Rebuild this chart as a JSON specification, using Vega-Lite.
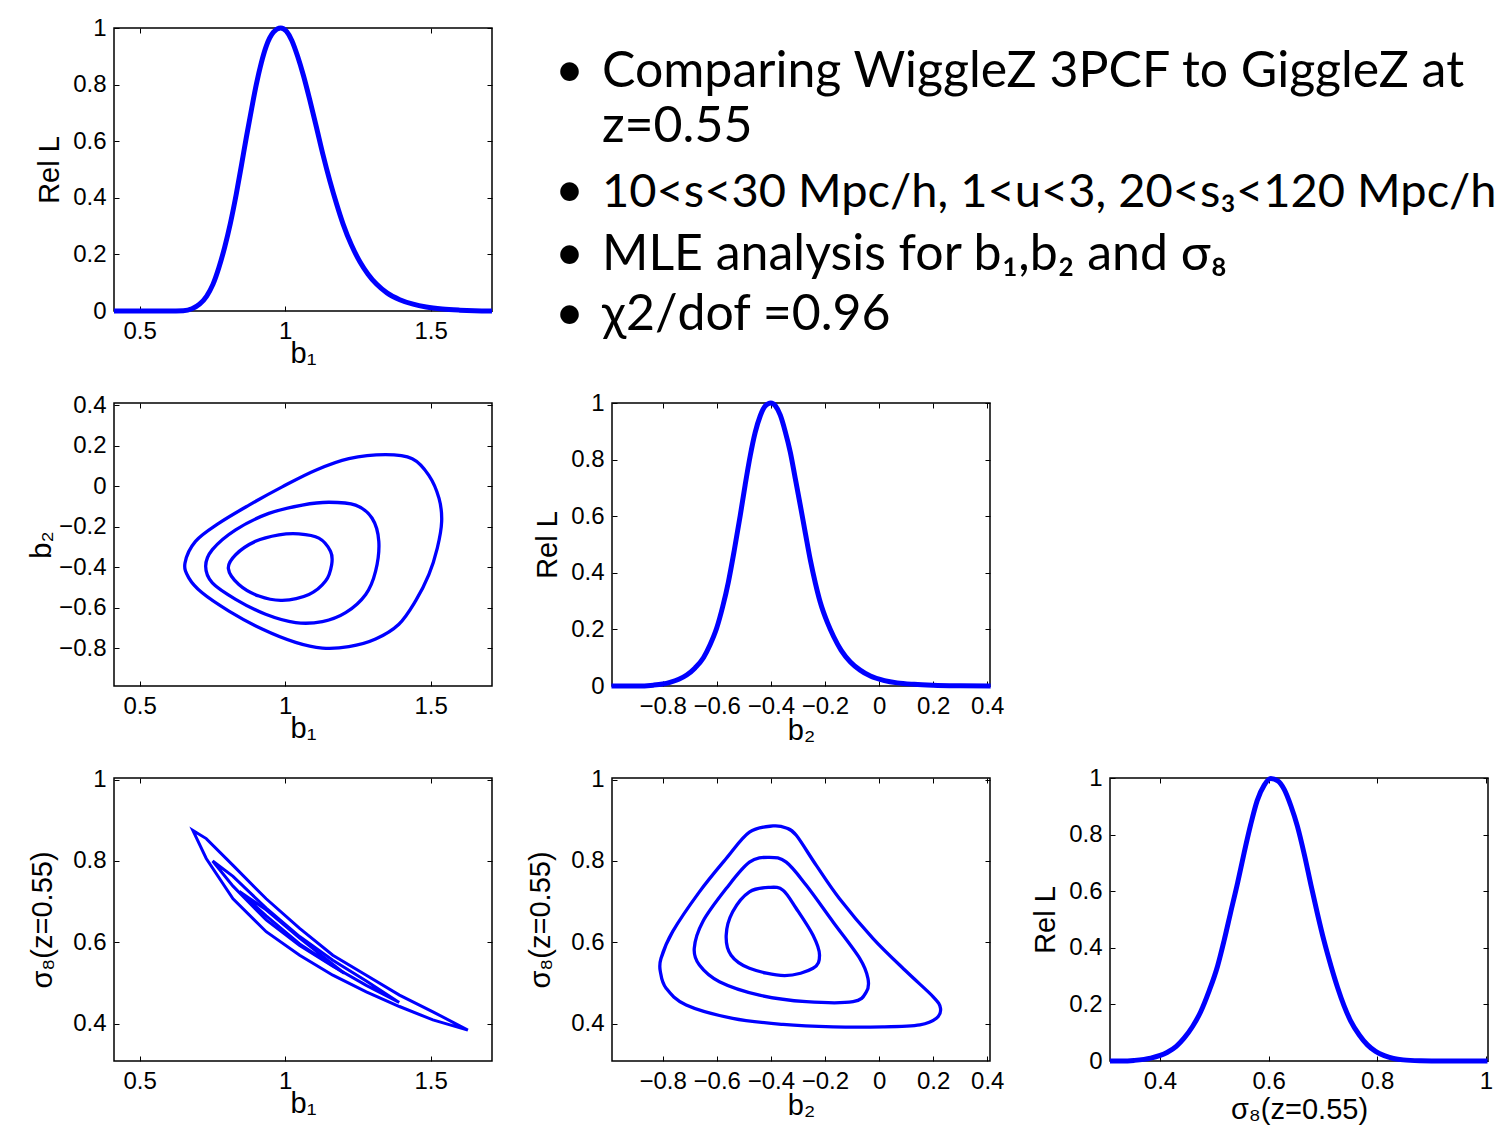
{
  "$schema": "https://vega.github.io/schema/vega-lite/v6.json",
  "background": "white",
  "padding": {"left": 26, "top": 15, "right": 0, "bottom": 0},
  "config": {
    "view": {"stroke": "black", "strokeWidth": 1.5},
    "axis": {
      "grid": false,
      "tickSize": -5,
      "tickColor": "black",
      "tickWidth": 1,
      "domain": false,
      "labelFont": "Liberation Sans",
      "labelFontSize": 24,
      "labelColor": "black",
      "labelPadding": 13,
      "labelOverlap": false,
      "labelFlush": false,
      "labelBound": false,
      "titleFont": "Liberation Sans",
      "titleFontSize": 29,
      "titleFontWeight": "normal",
      "titleColor": "black",
      "titlePadding": -4
    }
  },
  "datasets": {
    "p1": [
      {"b1": 0.412, "L": 0}, {"b1": 0.6, "L": 0}, {"b1": 0.65, "L": 0.001}, {"b1": 0.68, "L": 0.008},
      {"b1": 0.706, "L": 0.024}, {"b1": 0.73, "L": 0.052}, {"b1": 0.752, "L": 0.094}, {"b1": 0.772, "L": 0.152},
      {"b1": 0.792, "L": 0.224}, {"b1": 0.812, "L": 0.31}, {"b1": 0.832, "L": 0.412}, {"b1": 0.85, "L": 0.515},
      {"b1": 0.867, "L": 0.615}, {"b1": 0.885, "L": 0.715}, {"b1": 0.901, "L": 0.8}, {"b1": 0.918, "L": 0.876},
      {"b1": 0.935, "L": 0.935}, {"b1": 0.96, "L": 0.985}, {"b1": 0.985, "L": 1.0}, {"b1": 1.005, "L": 0.988},
      {"b1": 1.023, "L": 0.956}, {"b1": 1.043, "L": 0.9}, {"b1": 1.063, "L": 0.832}, {"b1": 1.085, "L": 0.745},
      {"b1": 1.108, "L": 0.648}, {"b1": 1.13, "L": 0.553}, {"b1": 1.154, "L": 0.459}, {"b1": 1.177, "L": 0.378},
      {"b1": 1.199, "L": 0.308}, {"b1": 1.228, "L": 0.233}, {"b1": 1.257, "L": 0.174}, {"b1": 1.285, "L": 0.13},
      {"b1": 1.314, "L": 0.095}, {"b1": 1.35, "L": 0.064}, {"b1": 1.394, "L": 0.04}, {"b1": 1.44, "L": 0.024},
      {"b1": 1.485, "L": 0.014}, {"b1": 1.54, "L": 0.007}, {"b1": 1.6, "L": 0.003}, {"b1": 1.65, "L": 0.001},
      {"b1": 1.711, "L": 0}
    ],
    "p3": [
      {"b2": -0.989, "L": 0}, {"b2": -0.9, "L": 0}, {"b2": -0.834, "L": 0.003}, {"b2": -0.8, "L": 0.007},
      {"b2": -0.773, "L": 0.013}, {"b2": -0.74, "L": 0.024}, {"b2": -0.711, "L": 0.039}, {"b2": -0.68, "L": 0.064},
      {"b2": -0.649, "L": 0.1}, {"b2": -0.625, "L": 0.145}, {"b2": -0.6, "L": 0.205}, {"b2": -0.578, "L": 0.28},
      {"b2": -0.557, "L": 0.367}, {"b2": -0.535, "L": 0.48}, {"b2": -0.513, "L": 0.603}, {"b2": -0.495, "L": 0.71},
      {"b2": -0.476, "L": 0.814}, {"b2": -0.458, "L": 0.895}, {"b2": -0.439, "L": 0.955}, {"b2": -0.42, "L": 0.99},
      {"b2": -0.4, "L": 1.0}, {"b2": -0.383, "L": 0.99}, {"b2": -0.365, "L": 0.957}, {"b2": -0.347, "L": 0.9},
      {"b2": -0.328, "L": 0.826}, {"b2": -0.31, "L": 0.735}, {"b2": -0.291, "L": 0.638}, {"b2": -0.272, "L": 0.538},
      {"b2": -0.254, "L": 0.445}, {"b2": -0.235, "L": 0.362}, {"b2": -0.217, "L": 0.295}, {"b2": -0.19, "L": 0.222},
      {"b2": -0.168, "L": 0.175}, {"b2": -0.14, "L": 0.126}, {"b2": -0.106, "L": 0.085}, {"b2": -0.07, "L": 0.056},
      {"b2": -0.032, "L": 0.035}, {"b2": 0.02, "L": 0.019}, {"b2": 0.067, "L": 0.011}, {"b2": 0.13, "L": 0.006},
      {"b2": 0.2, "L": 0.003}, {"b2": 0.3, "L": 0.001}, {"b2": 0.4125, "L": 0}
    ],
    "p6": [
      {"s8": 0.308, "L": 0}, {"s8": 0.33, "L": 0}, {"s8": 0.352, "L": 0.002}, {"s8": 0.383, "L": 0.01},
      {"s8": 0.413, "L": 0.03}, {"s8": 0.43, "L": 0.052}, {"s8": 0.444, "L": 0.08}, {"s8": 0.46, "L": 0.122},
      {"s8": 0.475, "L": 0.174}, {"s8": 0.49, "L": 0.245}, {"s8": 0.506, "L": 0.335}, {"s8": 0.518, "L": 0.425},
      {"s8": 0.53, "L": 0.524}, {"s8": 0.543, "L": 0.63}, {"s8": 0.555, "L": 0.736}, {"s8": 0.567, "L": 0.835},
      {"s8": 0.579, "L": 0.92}, {"s8": 0.592, "L": 0.975}, {"s8": 0.604, "L": 0.998}, {"s8": 0.617, "L": 0.99},
      {"s8": 0.629, "L": 0.959}, {"s8": 0.641, "L": 0.902}, {"s8": 0.653, "L": 0.83}, {"s8": 0.666, "L": 0.728},
      {"s8": 0.678, "L": 0.622}, {"s8": 0.69, "L": 0.52}, {"s8": 0.702, "L": 0.425}, {"s8": 0.715, "L": 0.335},
      {"s8": 0.727, "L": 0.26}, {"s8": 0.739, "L": 0.195}, {"s8": 0.751, "L": 0.142}, {"s8": 0.767, "L": 0.092},
      {"s8": 0.782, "L": 0.057}, {"s8": 0.797, "L": 0.034}, {"s8": 0.813, "L": 0.019}, {"s8": 0.83, "L": 0.009},
      {"s8": 0.848, "L": 0.004}, {"s8": 0.88, "L": 0.001}, {"s8": 0.92, "L": 0}, {"s8": 1.003, "L": 0}
    ],
    "c12": [
      {"c": "outer", "i": 0, "b1": 0.656, "b2": -0.38}, {"c": "outer", "i": 1, "b1": 0.692, "b2": -0.273},
      {"c": "outer", "i": 2, "b1": 0.773, "b2": -0.183}, {"c": "outer", "i": 3, "b1": 0.876, "b2": -0.094},
      {"c": "outer", "i": 4, "b1": 0.99, "b2": -0.004}, {"c": "outer", "i": 5, "b1": 1.105, "b2": 0.078},
      {"c": "outer", "i": 6, "b1": 1.219, "b2": 0.135}, {"c": "outer", "i": 7, "b1": 1.345, "b2": 0.155},
      {"c": "outer", "i": 8, "b1": 1.437, "b2": 0.135}, {"c": "outer", "i": 9, "b1": 1.494, "b2": 0.053},
      {"c": "outer", "i": 10, "b1": 1.529, "b2": -0.061}, {"c": "outer", "i": 11, "b1": 1.538, "b2": -0.175},
      {"c": "outer", "i": 12, "b1": 1.523, "b2": -0.306}, {"c": "outer", "i": 13, "b1": 1.494, "b2": -0.437},
      {"c": "outer", "i": 14, "b1": 1.448, "b2": -0.568}, {"c": "outer", "i": 15, "b1": 1.391, "b2": -0.682},
      {"c": "outer", "i": 16, "b1": 1.311, "b2": -0.755}, {"c": "outer", "i": 17, "b1": 1.219, "b2": -0.793},
      {"c": "outer", "i": 18, "b1": 1.128, "b2": -0.8}, {"c": "outer", "i": 19, "b1": 1.036, "b2": -0.772},
      {"c": "outer", "i": 20, "b1": 0.921, "b2": -0.706}, {"c": "outer", "i": 21, "b1": 0.807, "b2": -0.617},
      {"c": "outer", "i": 22, "b1": 0.715, "b2": -0.527}, {"c": "outer", "i": 23, "b1": 0.669, "b2": -0.453},
      {"c": "mid", "i": 0, "b1": 0.727, "b2": -0.396}, {"c": "mid", "i": 1, "b1": 0.75, "b2": -0.314},
      {"c": "mid", "i": 2, "b1": 0.83, "b2": -0.216}, {"c": "mid", "i": 3, "b1": 0.944, "b2": -0.135},
      {"c": "mid", "i": 4, "b1": 1.059, "b2": -0.094}, {"c": "mid", "i": 5, "b1": 1.15, "b2": -0.08},
      {"c": "mid", "i": 6, "b1": 1.242, "b2": -0.094}, {"c": "mid", "i": 7, "b1": 1.299, "b2": -0.159},
      {"c": "mid", "i": 8, "b1": 1.322, "b2": -0.273}, {"c": "mid", "i": 9, "b1": 1.311, "b2": -0.42},
      {"c": "mid", "i": 10, "b1": 1.277, "b2": -0.535}, {"c": "mid", "i": 11, "b1": 1.208, "b2": -0.625},
      {"c": "mid", "i": 12, "b1": 1.128, "b2": -0.669}, {"c": "mid", "i": 13, "b1": 1.036, "b2": -0.674},
      {"c": "mid", "i": 14, "b1": 0.933, "b2": -0.633}, {"c": "mid", "i": 15, "b1": 0.83, "b2": -0.559},
      {"c": "mid", "i": 16, "b1": 0.75, "b2": -0.478},
      {"c": "inner", "i": 0, "b1": 0.805, "b2": -0.407}, {"c": "inner", "i": 1, "b1": 0.83, "b2": -0.339},
      {"c": "inner", "i": 2, "b1": 0.898, "b2": -0.273}, {"c": "inner", "i": 3, "b1": 0.979, "b2": -0.241},
      {"c": "inner", "i": 4, "b1": 1.047, "b2": -0.236}, {"c": "inner", "i": 5, "b1": 1.116, "b2": -0.257},
      {"c": "inner", "i": 6, "b1": 1.156, "b2": -0.322}, {"c": "inner", "i": 7, "b1": 1.16, "b2": -0.388},
      {"c": "inner", "i": 8, "b1": 1.139, "b2": -0.469}, {"c": "inner", "i": 9, "b1": 1.082, "b2": -0.535},
      {"c": "inner", "i": 10, "b1": 0.99, "b2": -0.564}, {"c": "inner", "i": 11, "b1": 0.91, "b2": -0.543},
      {"c": "inner", "i": 12, "b1": 0.841, "b2": -0.486}
    ],
    "c13": [
      {"c": "outer", "i": 0, "b1": 0.683, "s8": 0.875}, {"c": "outer", "i": 1, "b1": 0.729, "s8": 0.806},
      {"c": "outer", "i": 2, "b1": 0.821, "s8": 0.707}, {"c": "outer", "i": 3, "b1": 0.935, "s8": 0.626},
      {"c": "outer", "i": 4, "b1": 1.05, "s8": 0.568}, {"c": "outer", "i": 5, "b1": 1.164, "s8": 0.519},
      {"c": "outer", "i": 6, "b1": 1.279, "s8": 0.478}, {"c": "outer", "i": 7, "b1": 1.393, "s8": 0.442},
      {"c": "outer", "i": 8, "b1": 1.508, "s8": 0.409}, {"c": "outer", "i": 9, "b1": 1.628, "s8": 0.384},
      {"c": "outer", "i": 10, "b1": 1.508, "s8": 0.429}, {"c": "outer", "i": 11, "b1": 1.393, "s8": 0.47},
      {"c": "outer", "i": 12, "b1": 1.279, "s8": 0.519}, {"c": "outer", "i": 13, "b1": 1.164, "s8": 0.568},
      {"c": "outer", "i": 14, "b1": 1.05, "s8": 0.634}, {"c": "outer", "i": 15, "b1": 0.935, "s8": 0.707},
      {"c": "outer", "i": 16, "b1": 0.821, "s8": 0.789}, {"c": "outer", "i": 17, "b1": 0.729, "s8": 0.855},
      {"c": "mid", "i": 0, "b1": 0.751, "s8": 0.8}, {"c": "mid", "i": 1, "b1": 0.821, "s8": 0.738},
      {"c": "mid", "i": 2, "b1": 0.935, "s8": 0.655}, {"c": "mid", "i": 3, "b1": 1.05, "s8": 0.592},
      {"c": "mid", "i": 4, "b1": 1.164, "s8": 0.541}, {"c": "mid", "i": 5, "b1": 1.279, "s8": 0.494},
      {"c": "mid", "i": 6, "b1": 1.392, "s8": 0.452}, {"c": "mid", "i": 7, "b1": 1.279, "s8": 0.505},
      {"c": "mid", "i": 8, "b1": 1.164, "s8": 0.556}, {"c": "mid", "i": 9, "b1": 1.05, "s8": 0.614},
      {"c": "mid", "i": 10, "b1": 0.935, "s8": 0.684}, {"c": "mid", "i": 11, "b1": 0.821, "s8": 0.762},
      {"c": "inner", "i": 0, "b1": 0.843, "s8": 0.725}, {"c": "inner", "i": 1, "b1": 0.935, "s8": 0.665},
      {"c": "inner", "i": 2, "b1": 1.05, "s8": 0.596}, {"c": "inner", "i": 3, "b1": 1.203, "s8": 0.524},
      {"c": "inner", "i": 4, "b1": 1.05, "s8": 0.61}, {"c": "inner", "i": 5, "b1": 0.935, "s8": 0.68}
    ],
    "c23": [
      {"c": "outer", "i": 0, "b2": -0.392, "s8": 0.886}, {"c": "outer", "i": 1, "b2": -0.479, "s8": 0.871},
      {"c": "outer", "i": 2, "b2": -0.565, "s8": 0.806}, {"c": "outer", "i": 3, "b2": -0.664, "s8": 0.724},
      {"c": "outer", "i": 4, "b2": -0.763, "s8": 0.626}, {"c": "outer", "i": 5, "b2": -0.806, "s8": 0.56},
      {"c": "outer", "i": 6, "b2": -0.808, "s8": 0.527}, {"c": "outer", "i": 7, "b2": -0.787, "s8": 0.487},
      {"c": "outer", "i": 8, "b2": -0.713, "s8": 0.446}, {"c": "outer", "i": 9, "b2": -0.541, "s8": 0.413},
      {"c": "outer", "i": 10, "b2": -0.355, "s8": 0.398}, {"c": "outer", "i": 11, "b2": -0.17, "s8": 0.392},
      {"c": "outer", "i": 12, "b2": 0.015, "s8": 0.392}, {"c": "outer", "i": 13, "b2": 0.151, "s8": 0.397},
      {"c": "outer", "i": 14, "b2": 0.212, "s8": 0.413}, {"c": "outer", "i": 15, "b2": 0.227, "s8": 0.438},
      {"c": "outer", "i": 16, "b2": 0.2, "s8": 0.466}, {"c": "outer", "i": 17, "b2": 0.101, "s8": 0.528},
      {"c": "outer", "i": 18, "b2": -0.022, "s8": 0.609}, {"c": "outer", "i": 19, "b2": -0.146, "s8": 0.707},
      {"c": "outer", "i": 20, "b2": -0.232, "s8": 0.789}, {"c": "outer", "i": 21, "b2": -0.306, "s8": 0.863},
      {"c": "outer", "i": 22, "b2": -0.343, "s8": 0.881},
      {"c": "mid", "i": 0, "b2": -0.405, "s8": 0.809}, {"c": "mid", "i": 1, "b2": -0.479, "s8": 0.797},
      {"c": "mid", "i": 2, "b2": -0.565, "s8": 0.732}, {"c": "mid", "i": 3, "b2": -0.652, "s8": 0.65},
      {"c": "mid", "i": 4, "b2": -0.683, "s8": 0.585}, {"c": "mid", "i": 5, "b2": -0.664, "s8": 0.544},
      {"c": "mid", "i": 6, "b2": -0.59, "s8": 0.503}, {"c": "mid", "i": 7, "b2": -0.442, "s8": 0.47},
      {"c": "mid", "i": 8, "b2": -0.269, "s8": 0.454}, {"c": "mid", "i": 9, "b2": -0.096, "s8": 0.454},
      {"c": "mid", "i": 10, "b2": -0.047, "s8": 0.478}, {"c": "mid", "i": 11, "b2": -0.041, "s8": 0.511},
      {"c": "mid", "i": 12, "b2": -0.071, "s8": 0.56}, {"c": "mid", "i": 13, "b2": -0.17, "s8": 0.65},
      {"c": "mid", "i": 14, "b2": -0.269, "s8": 0.74}, {"c": "mid", "i": 15, "b2": -0.343, "s8": 0.797},
      {"c": "inner", "i": 0, "b2": -0.405, "s8": 0.735}, {"c": "inner", "i": 1, "b2": -0.479, "s8": 0.724},
      {"c": "inner", "i": 2, "b2": -0.541, "s8": 0.675}, {"c": "inner", "i": 3, "b2": -0.565, "s8": 0.617},
      {"c": "inner", "i": 4, "b2": -0.547, "s8": 0.568}, {"c": "inner", "i": 5, "b2": -0.479, "s8": 0.536},
      {"c": "inner", "i": 6, "b2": -0.349, "s8": 0.518}, {"c": "inner", "i": 7, "b2": -0.244, "s8": 0.536},
      {"c": "inner", "i": 8, "b2": -0.22, "s8": 0.568}, {"c": "inner", "i": 9, "b2": -0.244, "s8": 0.617},
      {"c": "inner", "i": 10, "b2": -0.306, "s8": 0.683}, {"c": "inner", "i": 11, "b2": -0.355, "s8": 0.728}
    ],
    "txt": [
      {"t": "•", "col": 0, "row": 2.07},
      {"t": "Comparing WiggleZ 3PCF to GiggleZ at", "col": 1, "row": 2.07},
      {"t": "z=0.55", "col": 1, "row": 4.02},
      {"t": "•", "col": 0, "row": 6.31},
      {"t": "10<s<30 Mpc/h, 1<u<3, 20<s₃<120 Mpc/h", "col": 1, "row": 6.31},
      {"t": "•", "col": 0, "row": 8.55},
      {"t": "MLE analysis for b₁,b₂ and σ₈", "col": 1, "row": 8.55},
      {"t": "•", "col": 0, "row": 10.67},
      {"t": "χ2/dof =0.96", "col": 1, "row": 10.67}
    ],
    "none": []
  },
  "columns": 3,
  "bounds": "flush",
  "spacing": {"row": 92, "column": 120},
  "concat": [
    {
      "width": 378, "height": 283,
      "data": {"name": "p1"},
      "layer": [
        {"mark": {"type": "line", "color": "#0000ff", "strokeWidth": 5, "interpolate": "monotone"},
         "encoding": {
           "x": {"field": "b1", "type": "quantitative", "scale": {"domain": [0.412, 1.711], "nice": false, "zero": false},
                 "axis": {"orient": "bottom", "values": [0.5, 1, 1.5], "format": "~g", "title": "b₁"}},
           "y": {"field": "L", "type": "quantitative", "scale": {"domain": [0, 1], "nice": false, "zero": false},
                 "axis": {"orient": "left", "values": [0, 0.2, 0.4, 0.6, 0.8, 1], "format": "~g", "title": "Rel L", "titlePadding": 8}}}},
        {"mark": {"type": "line", "opacity": 0},
         "encoding": {
           "x": {"field": "b1", "type": "quantitative", "scale": {"domain": [0.412, 1.711], "nice": false, "zero": false},
                 "axis": {"orient": "top", "values": [0.5, 1, 1.5], "labels": false, "title": null}},
           "y": {"field": "L", "type": "quantitative", "scale": {"domain": [0, 1], "nice": false, "zero": false},
                 "axis": {"orient": "right", "values": [0, 0.2, 0.4, 0.6, 0.8, 1], "labels": false, "title": null}}}}
      ],
      "resolve": {"axis": {"x": "independent", "y": "independent"}}
    },
    {
      "width": 378, "height": 283,
      "view": {"stroke": null},
      "data": {"name": "txt"},
      "encoding": {
        "x": {"field": "col", "type": "quantitative", "scale": {"domain": [1.2128, 9.2553], "nice": false, "zero": false}, "axis": null},
        "y": {"field": "row", "type": "quantitative", "scale": {"domain": [10, 0], "nice": false, "zero": false}, "axis": null},
        "text": {"field": "t"}
      },
      "layer": [
        {"transform": [{"filter": {"not": {"field": "t", "equal": "10<s<30 Mpc/h, 1<u<3, 20<s₃<120 Mpc/h"}}}],
         "mark": {"type": "text", "align": "left", "baseline": "alphabetic", "font": "Lato", "fontSize": 50, "color": "black"}},
        {"transform": [{"filter": {"field": "t", "equal": "10<s<30 Mpc/h, 1<u<3, 20<s₃<120 Mpc/h"}}],
         "mark": {"type": "text", "align": "left", "baseline": "alphabetic", "font": "Lato", "fontSize": 47, "color": "black"}}
      ]
    },
    {
      "width": 378, "height": 283,
      "view": {"stroke": null},
      "data": {"name": "none"},
      "mark": "point"
    },
    {
      "width": 378, "height": 283,
      "data": {"name": "c12"},
      "layer": [
        {"mark": {"type": "line", "color": "#0000ff", "strokeWidth": 3.3, "interpolate": "cardinal-closed"},
         "encoding": {
           "x": {"field": "b1", "type": "quantitative", "scale": {"domain": [0.412, 1.711], "nice": false, "zero": false},
                 "axis": {"orient": "bottom", "values": [0.5, 1, 1.5], "format": "~g", "title": "b₁"}},
           "y": {"field": "b2", "type": "quantitative", "scale": {"domain": [-0.987, 0.41], "nice": false, "zero": false},
                 "axis": {"orient": "left", "values": [-0.8, -0.6, -0.4, -0.2, 0, 0.2, 0.4], "format": "~g", "title": "b₂", "titlePadding": 2}},
           "detail": {"field": "c", "type": "nominal"},
           "order": {"field": "i", "type": "quantitative"}}},
        {"mark": {"type": "line", "opacity": 0},
         "encoding": {
           "x": {"field": "b1", "type": "quantitative", "scale": {"domain": [0.412, 1.711], "nice": false, "zero": false},
                 "axis": {"orient": "top", "values": [0.5, 1, 1.5], "labels": false, "title": null}},
           "y": {"field": "b2", "type": "quantitative", "scale": {"domain": [-0.987, 0.41], "nice": false, "zero": false},
                 "axis": {"orient": "right", "values": [-0.8, -0.6, -0.4, -0.2, 0, 0.2, 0.4], "labels": false, "title": null}},
           "detail": {"field": "c", "type": "nominal"},
           "order": {"field": "i", "type": "quantitative"}}}
      ],
      "resolve": {"axis": {"x": "independent", "y": "independent"}}
    },
    {
      "width": 378, "height": 283,
      "data": {"name": "p3"},
      "layer": [
        {"mark": {"type": "line", "color": "#0000ff", "strokeWidth": 5, "interpolate": "monotone"},
         "encoding": {
           "x": {"field": "b2", "type": "quantitative", "scale": {"domain": [-0.987, 0.41], "nice": false, "zero": false},
                 "axis": {"orient": "bottom", "values": [-0.8, -0.6, -0.4, -0.2, 0, 0.2, 0.4], "format": "~g", "title": "b₂", "titlePadding": -2}},
           "y": {"field": "L", "type": "quantitative", "scale": {"domain": [0, 1], "nice": false, "zero": false},
                 "axis": {"orient": "left", "values": [0, 0.2, 0.4, 0.6, 0.8, 1], "format": "~g", "title": "Rel L", "titlePadding": 8}}}},
        {"mark": {"type": "line", "opacity": 0},
         "encoding": {
           "x": {"field": "b2", "type": "quantitative", "scale": {"domain": [-0.987, 0.41], "nice": false, "zero": false},
                 "axis": {"orient": "top", "values": [-0.8, -0.6, -0.4, -0.2, 0, 0.2, 0.4], "labels": false, "title": null}},
           "y": {"field": "L", "type": "quantitative", "scale": {"domain": [0, 1], "nice": false, "zero": false},
                 "axis": {"orient": "right", "values": [0, 0.2, 0.4, 0.6, 0.8, 1], "labels": false, "title": null}}}}
      ],
      "resolve": {"axis": {"x": "independent", "y": "independent"}}
    },
    {
      "width": 378, "height": 283,
      "view": {"stroke": null},
      "data": {"name": "none"},
      "mark": "point"
    },
    {
      "width": 378, "height": 283,
      "data": {"name": "c13"},
      "layer": [
        {"mark": {"type": "line", "color": "#0000ff", "strokeWidth": 3, "interpolate": "linear-closed"},
         "encoding": {
           "x": {"field": "b1", "type": "quantitative", "scale": {"domain": [0.412, 1.711], "nice": false, "zero": false},
                 "axis": {"orient": "bottom", "values": [0.5, 1, 1.5], "format": "~g", "title": "b₁"}},
           "y": {"field": "s8", "type": "quantitative", "scale": {"domain": [0.308, 1.004], "nice": false, "zero": false},
                 "axis": {"orient": "left", "values": [0.4, 0.6, 0.8, 1], "format": "~g", "title": "σ₈(z=0.55)", "titlePadding": 15}},
           "detail": {"field": "c", "type": "nominal"},
           "order": {"field": "i", "type": "quantitative"}}},
        {"mark": {"type": "line", "opacity": 0},
         "encoding": {
           "x": {"field": "b1", "type": "quantitative", "scale": {"domain": [0.412, 1.711], "nice": false, "zero": false},
                 "axis": {"orient": "top", "values": [0.5, 1, 1.5], "labels": false, "title": null}},
           "y": {"field": "s8", "type": "quantitative", "scale": {"domain": [0.308, 1.004], "nice": false, "zero": false},
                 "axis": {"orient": "right", "values": [0.4, 0.6, 0.8, 1], "labels": false, "title": null}},
           "detail": {"field": "c", "type": "nominal"},
           "order": {"field": "i", "type": "quantitative"}}}
      ],
      "resolve": {"axis": {"x": "independent", "y": "independent"}}
    },
    {
      "width": 378, "height": 283,
      "data": {"name": "c23"},
      "layer": [
        {"mark": {"type": "line", "color": "#0000ff", "strokeWidth": 3.3, "interpolate": "cardinal-closed"},
         "encoding": {
           "x": {"field": "b2", "type": "quantitative", "scale": {"domain": [-0.987, 0.41], "nice": false, "zero": false},
                 "axis": {"orient": "bottom", "values": [-0.8, -0.6, -0.4, -0.2, 0, 0.2, 0.4], "format": "~g", "title": "b₂", "titlePadding": -2}},
           "y": {"field": "s8", "type": "quantitative", "scale": {"domain": [0.308, 1.004], "nice": false, "zero": false},
                 "axis": {"orient": "left", "values": [0.4, 0.6, 0.8, 1], "format": "~g", "title": "σ₈(z=0.55)", "titlePadding": 15}},
           "detail": {"field": "c", "type": "nominal"},
           "order": {"field": "i", "type": "quantitative"}}},
        {"mark": {"type": "line", "opacity": 0},
         "encoding": {
           "x": {"field": "b2", "type": "quantitative", "scale": {"domain": [-0.987, 0.41], "nice": false, "zero": false},
                 "axis": {"orient": "top", "values": [-0.8, -0.6, -0.4, -0.2, 0, 0.2, 0.4], "labels": false, "title": null}},
           "y": {"field": "s8", "type": "quantitative", "scale": {"domain": [0.308, 1.004], "nice": false, "zero": false},
                 "axis": {"orient": "right", "values": [0.4, 0.6, 0.8, 1], "labels": false, "title": null}},
           "detail": {"field": "c", "type": "nominal"},
           "order": {"field": "i", "type": "quantitative"}}}
      ],
      "resolve": {"axis": {"x": "independent", "y": "independent"}}
    },
    {
      "width": 378, "height": 283,
      "data": {"name": "p6"},
      "layer": [
        {"mark": {"type": "line", "color": "#0000ff", "strokeWidth": 5, "interpolate": "monotone"},
         "encoding": {
           "x": {"field": "s8", "type": "quantitative", "scale": {"domain": [0.308, 1.004], "nice": false, "zero": false},
                 "axis": {"orient": "bottom", "values": [0.4, 0.6, 0.8, 1], "format": "~g", "title": "σ₈(z=0.55)", "titlePadding": 2}},
           "y": {"field": "L", "type": "quantitative", "scale": {"domain": [0, 1], "nice": false, "zero": false},
                 "axis": {"orient": "left", "values": [0, 0.2, 0.4, 0.6, 0.8, 1], "format": "~g", "title": "Rel L", "titlePadding": 8}}}},
        {"mark": {"type": "line", "opacity": 0},
         "encoding": {
           "x": {"field": "s8", "type": "quantitative", "scale": {"domain": [0.308, 1.004], "nice": false, "zero": false},
                 "axis": {"orient": "top", "values": [0.4, 0.6, 0.8, 1], "labels": false, "title": null}},
           "y": {"field": "L", "type": "quantitative", "scale": {"domain": [0, 1], "nice": false, "zero": false},
                 "axis": {"orient": "right", "values": [0, 0.2, 0.4, 0.6, 0.8, 1], "labels": false, "title": null}}}}
      ],
      "resolve": {"axis": {"x": "independent", "y": "independent"}}
    }
  ]
}
